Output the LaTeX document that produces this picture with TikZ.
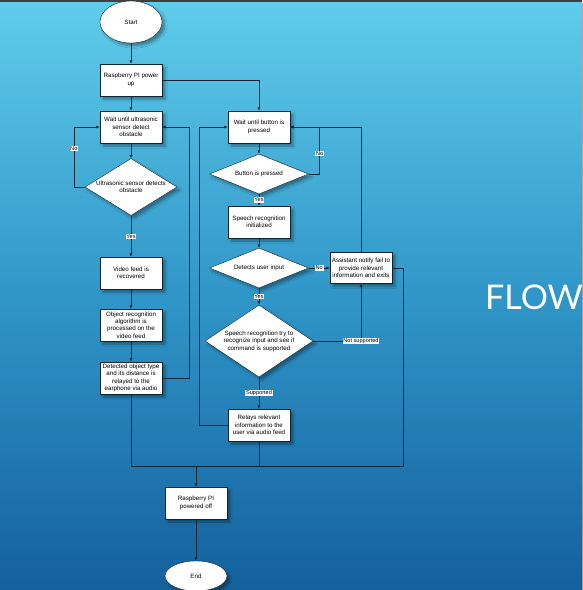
\documentclass[tikz,border=0pt]{standalone}
\usepackage{fontspec}
\setmainfont{Liberation Sans}
\newfontfamily\flowfont{Lato}
\usetikzlibrary{shapes.geometric,arrows.meta,shadows.blur}

\definecolor{bgtop}{RGB}{96,205,235}
\definecolor{bgmid}{RGB}{48,150,200}
\definecolor{bgbot}{RGB}{20,96,156}
\definecolor{linec}{RGB}{14,38,52}

\begin{document}
\begin{tikzpicture}[x=1pt,y=-1pt,
    font=\fontsize{6.2}{7.4}\selectfont,
    shade/.style={blur shadow={shadow xshift=3pt,shadow yshift=-3pt,shadow opacity=35,shadow blur steps=6}},
    box/.style={draw=linec,fill=white,minimum width=62pt,minimum height=32pt,inner sep=1pt,align=center,shade},
    term/.style={ellipse,draw=linec,fill=white,minimum width=62pt,minimum height=42pt,shade},
    decision/.style={diamond,draw=linec,fill=white,inner sep=0pt,align=center,shade},
    lbl/.style={fill=white,inner sep=0.7pt,font=\fontsize{5.6}{6}\selectfont},
    flow/.style={draw=linec,line width=0.6pt,-{Latex[length=3.5pt,width=3.2pt]}},
    link/.style={draw=linec,line width=0.6pt}]

    % 背景
    \useasboundingbox (0,0) rectangle (582,590);
    \shade[top color=bgtop,bottom color=bgbot,middle color=bgmid] (0,0) rectangle (582,590);
    \fill[black!75] (0,0) rectangle (582,1.5);
    \node[text=white,font=\flowfont\fontsize{34}{34}\selectfont,anchor=west,inner sep=0pt] (title) at (485,297) {FLOW};

    % 左の列
    \node[term] (start) at (131,22) {Start};
    \node[box] (power) at (131,80) {Raspberry PI power\\up};
    \node[box] (waitus) at (131,127) {Wait until ultrasonic\\sensor detect\\obstacle};
    \node[decision,aspect=1.6,minimum width=92pt,minimum height=57pt] (dus) at (131,187) {Ultrasonic sensor detects\\obstacle};
    \node[box] (video) at (131,273) {Video feed is\\recovered};
    \node[box] (objrec) at (131,325) {Object recognition\\algorithm is\\processed on the\\video feed};
    \node[box] (detobj) at (131,378) {Detected object type\\and its distance is\\relayed to the\\earphone via audio};

    % 右の列
    \node[box] (waitbt) at (259,127) {Wait until button is\\pressed};
    \node[decision,aspect=2.5,minimum width=99pt,minimum height=40pt] (btn) at (259,174) {Button is pressed};
    \node[box] (spinit) at (259,222) {Speech recognition\\initialized};
    \node[decision,aspect=2.5,minimum width=99pt,minimum height=40pt] (detin) at (259,268) {Detects user input};
    \node[box,minimum height=31pt] (assist) at (361,268) {Assistant notify fail to\\provide relevant\\information and exits};
    \node[decision,aspect=1.5,minimum width=108pt,minimum height=72pt] (speech) at (259,341) {Speech recognition try to\\recognize input and see if\\command is supported};
    \node[box] (relays) at (259,425) {Relays relevant\\information to the\\user via audio feed};

    % 終了
    \coordinate (join) at (196,466);
    \node[box] (off) at (196,503) {Raspberry PI\\powered off};
    \node[term,minimum height=30pt] (end) at (196,576) {End};

    % 左の列の矢印
    \draw[flow] (start) -- (power);
    \draw[flow] (power) -- (waitus);
    \draw[flow] (power.east) -| (waitbt.north);
    \draw[flow] (waitus) -- (dus);
    \draw[flow] (dus.west) -- ++(-11,0) |- node[lbl,pos=0.32] {No} (waitus.west);
    \draw[flow] (dus) -- node[lbl] {Yes} (video);
    \draw[flow] (video) -- (objrec);
    \draw[flow] (objrec) -- (detobj);
    \draw[flow] (detobj.east) -- ++(27,0) |- (waitus.east);

    % 右の列の矢印
    \draw[flow] (waitbt) -- (btn);
    \draw[flow] (btn.east) -- ++(11,0) |- node[lbl,pos=0.22] {No} (waitbt.east);
    \draw[flow] (btn) -- node[lbl] {Yes} (spinit);
    \draw[flow] (spinit) -- (detin);
    \draw[flow] (detin) -- node[lbl] {No} (assist);
    \draw[flow] (assist.north) |- (waitbt.east);
    \draw[flow] (detin) -- node[lbl] {Yes} (speech);
    \draw[flow] (speech.east) -| node[lbl] {Not supported} (assist.south);
    \draw[flow] (speech) -- node[lbl] {Supported} (relays);
    \draw[flow] (relays.west) -- ++(-29,0) |- (waitbt.west);

    % 合流
    \draw[link] (detobj.south) |- (join);
    \draw[link] (relays.south) -- (relays.south |- join);
    \draw[link] (assist.east) -- ++(11,0) |- (join);
    \draw[flow] (join) -- (off);
    \draw[flow] (off) -- (end);

\end{tikzpicture}
\end{document}
